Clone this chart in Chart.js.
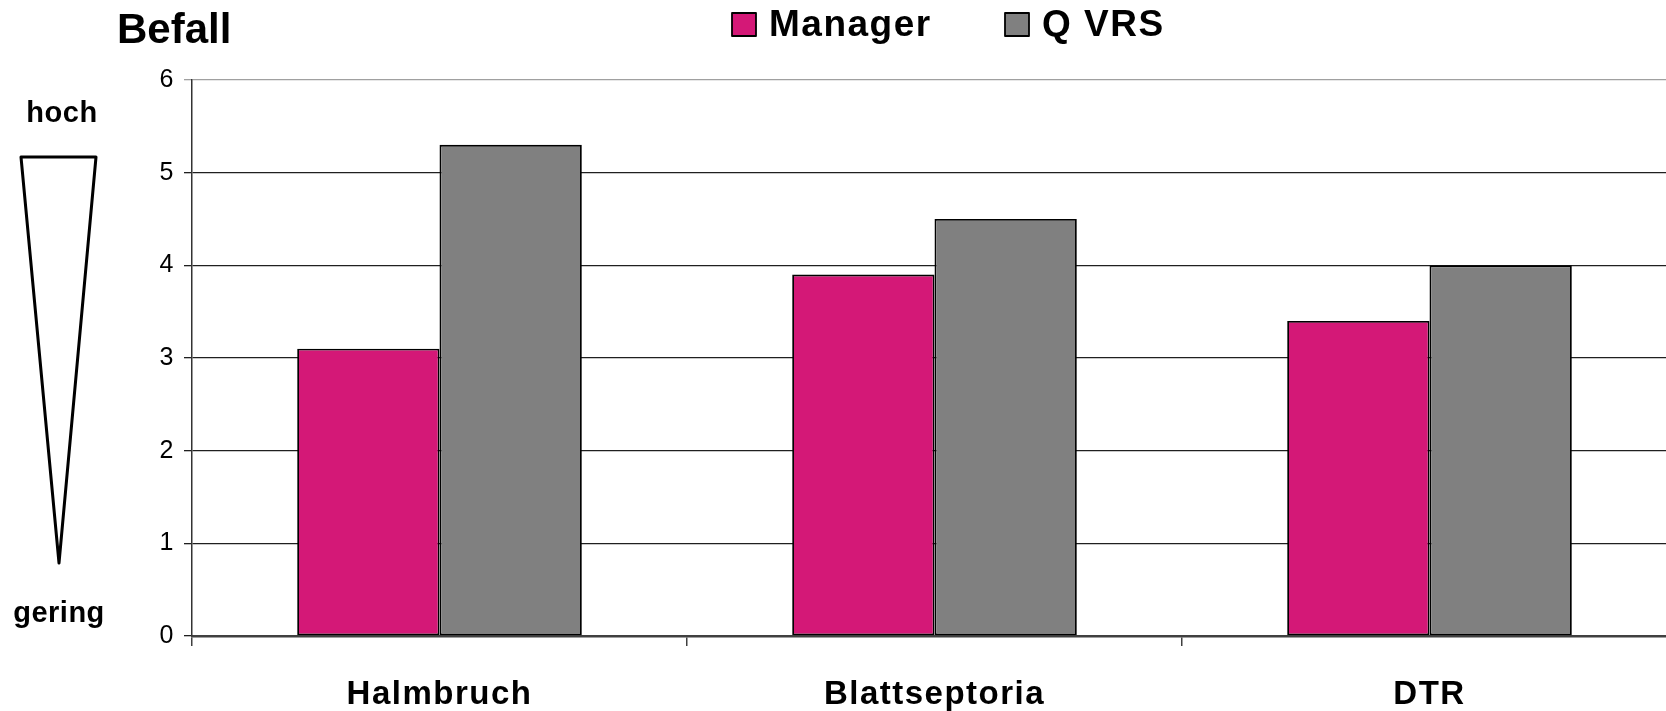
<!DOCTYPE html>
<html><head><meta charset="utf-8">
<script src="https://cdn.jsdelivr.net/npm/chart.js@4.4.0/dist/chart.umd.min.js"></script>
<style>
html,body{margin:0;padding:0;background:#fff;overflow:hidden;width:1666px;height:711px}
#wrap{position:relative;width:1677px;height:711px}
canvas{display:block}
</style>
</head><body><div id="wrap"><canvas id="c" width="1677" height="711" style="width:1677px;height:711px"></canvas></div>
<script>
const categories = ['Halmbruch', 'Blattseptoria', 'DTR'];
const seriesNames = ['Manager', 'Q VRS'];
const managerValues = [3.1, 3.9, 3.4];
const qvrsValues = [5.3, 4.5, 4.0];
const yTickValues = [0, 1, 2, 3, 4, 5, 6];
const yAxisTitle = 'Befall';
const scaleHigh = 'hoch';
const scaleLow = 'gering';

const FONT = "'Liberation Sans', Arial, Helvetica, sans-serif";
const colors = ['#D41877', '#808080'];
const SPACING = '1.5px';

const spacingPlugin = {
  id: 'spacing',
  beforeUpdate(c) { c.ctx.letterSpacing = SPACING; },
  beforeLayout(c) { c.ctx.letterSpacing = SPACING; },
  beforeDraw(c) { c.ctx.letterSpacing = SPACING; }
};

const decorPlugin = {
  id: 'decor',
  afterDraw(chart) {
    const ctx = chart.ctx;
    ctx.save();
    ctx.fillStyle = '#000';
    ctx.textAlign = 'left';
    ctx.textBaseline = 'alphabetic';
    // Title "Befall"
    ctx.letterSpacing = '0px';
    ctx.font = 'bold 42px ' + FONT;
    ctx.fillText(yAxisTitle, 117, 43);
    // hoch / gering
    ctx.letterSpacing = '0.5px';
    ctx.font = 'bold 29px ' + FONT;
    ctx.textAlign = 'center';
    ctx.fillText(scaleHigh, 62, 122);
    ctx.fillText(scaleLow, 59, 622);
    // wedge
    ctx.beginPath();
    ctx.moveTo(21, 157);
    ctx.lineTo(96, 157);
    ctx.lineTo(59, 563);
    ctx.closePath();
    ctx.lineWidth = 3;
    ctx.lineJoin = 'round';
    ctx.strokeStyle = '#000';
    ctx.stroke();
    // legend
    const items = chart.data.datasets.map((d) => ({ text: d.label, fill: d.backgroundColor }));
    const boxX = [732, 1005];
    ctx.textAlign = 'left';
    ctx.letterSpacing = SPACING;
    ctx.font = 'bold 37px ' + FONT;
    items.forEach((it, i) => {
      ctx.fillStyle = it.fill;
      ctx.fillRect(boxX[i], 13, 24, 23);
      ctx.lineWidth = 1.8;
      ctx.strokeStyle = '#000';
      ctx.strokeRect(boxX[i], 13, 24, 23);
      ctx.fillStyle = '#000';
      ctx.fillText(it.text, boxX[i] + 37, 36);
    });
    ctx.restore();
  }
};

new Chart(document.getElementById('c'), {
  type: 'bar',
  data: {
    labels: categories,
    datasets: [
      { label: seriesNames[0], data: managerValues, backgroundColor: colors[0] },
      { label: seriesNames[1], data: qvrsValues, backgroundColor: colors[1] }
    ].map(d => Object.assign(d, {
      borderColor: '#000', borderWidth: 1.8, borderSkipped: false,
      categoryPercentage: 0.575, barPercentage: 1.0
    }))
  },
  options: {
    responsive: false,
    devicePixelRatio: 1,
    animation: false,
    layout: { padding: { top: 80, left: 0, right: 0, bottom: 0 } },
    plugins: { legend: { display: false }, tooltip: { enabled: false }, title: { display: false } },
    scales: {
      x: {
        afterFit: (s) => { s.height = 75; },
        grid: { drawOnChartArea: false, drawTicks: true, tickLength: 10, color: '#404040', lineWidth: 1.5, offset: true },
        border: { color: '#404040', width: 2.5 },
        ticks: { color: '#000', font: { family: FONT, size: 33, weight: 'bold' }, padding: 29, maxRotation: 0 }
      },
      y: {
        min: 0, max: 6,
        afterBuildTicks: (s) => { s.ticks = yTickValues.map(v => ({ value: v })); },
        afterFit: (s) => { s.width = 192; },
        grid: {
          color: (c) => (c.tick && c.tick.value === 6) ? '#a0a0a0' : '#202020',
          lineWidth: 1.3, tickLength: 8, drawTicks: true
        },
        border: { color: '#333', width: 1.5 },
        ticks: { color: '#000', font: { family: FONT, size: 25 }, padding: 9 }
      }
    }
  },
  plugins: [spacingPlugin, decorPlugin]
});
</script>
</body></html>
